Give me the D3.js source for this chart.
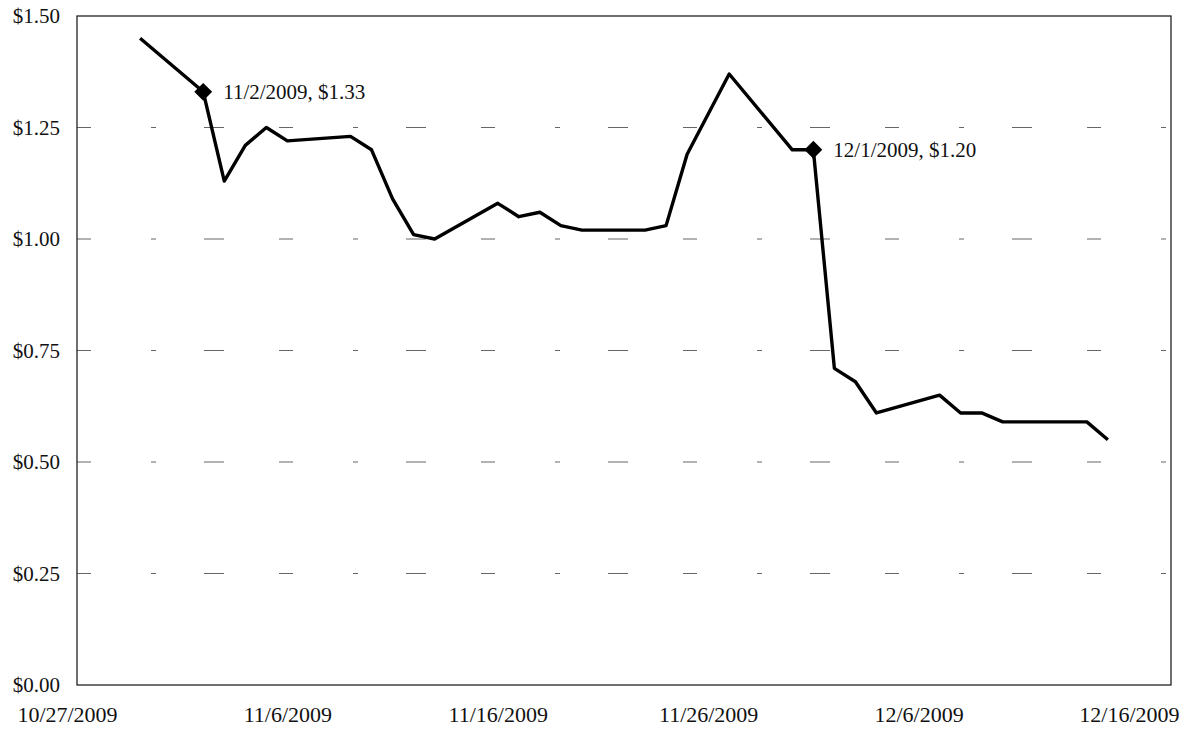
<!DOCTYPE html>
<html>
<head>
<meta charset="utf-8">
<script src="https://cdn.jsdelivr.net/npm/d3@7"></script>
<style>
    body { margin: 0; background: #fff; }
    svg { display: block; }
    .tick-label { font-family: "Liberation Serif", "Times New Roman", serif; fill: #111; }
    .note { font-family: "Liberation Serif", "Times New Roman", serif; font-size: 21px; fill: #111; }
</style>
</head>
<body>
<svg id="chart" width="1190" height="735"></svg>
<script>

// trading days and closing price
let dates = ["10/30/2009", "11/2/2009", "11/3/2009", "11/4/2009", "11/5/2009", "11/6/2009",
    "11/9/2009", "11/10/2009", "11/11/2009", "11/12/2009", "11/13/2009",
    "11/16/2009", "11/17/2009", "11/18/2009", "11/19/2009", "11/20/2009",
    "11/23/2009", "11/24/2009", "11/25/2009", "11/27/2009",
    "11/30/2009", "12/1/2009", "12/2/2009", "12/3/2009", "12/4/2009",
    "12/7/2009", "12/8/2009", "12/9/2009", "12/10/2009", "12/11/2009",
    "12/14/2009", "12/15/2009"];
let prices = [1.45, 1.33, 1.13, 1.21, 1.25, 1.22,
    1.23, 1.20, 1.09, 1.01, 1.00,
    1.08, 1.05, 1.06, 1.03, 1.02,
    1.02, 1.03, 1.19, 1.37,
    1.20, 1.20, 0.71, 0.68, 0.61,
    0.65, 0.61, 0.61, 0.59, 0.59,
    0.59, 0.55];

let xTicks = ["10/27/2009", "11/6/2009", "11/16/2009", "11/26/2009", "12/6/2009", "12/16/2009"];
let xDomain = ["10/27/2009", "12/18/2009"];
let yTicks = [0, 0.25, 0.5, 0.75, 1.0, 1.25, 1.5];
let labelled = ["11/2/2009", "12/1/2009"];

let parse = d3.timeParse("%m/%d/%Y");
let fmtDate = d3.timeFormat("%-m/%-d/%Y");
let fmtMoney = v => "$" + v.toFixed(2);

let data = dates.map((d, i) => ({date: parse(d), price: prices[i]}));

let svg = d3.select("#chart");
let x = d3.scaleTime().domain(xDomain.map(parse)).range([77, 1171]);
let y = d3.scaleLinear().domain([0, 1.5]).range([685, 16]);

// broken-looking gridlines like the scan
svg.append("g").selectAll("line").data(yTicks.filter(t => t > 0 && t < 1.5)).join("line")
    .attr("x1", x.range()[0]).attr("x2", x.range()[1])
    .attr("y1", d => y(d)).attr("y2", d => y(d))
    .attr("stroke", "#666").attr("stroke-width", 1)
    .attr("stroke-dasharray", "14,60,5,48,20,55");

// frame
svg.append("rect")
    .attr("x", x.range()[0]).attr("y", y(1.5))
    .attr("width", x.range()[1] - x.range()[0]).attr("height", y(0) - y(1.5))
    .attr("fill", "none").attr("stroke", "#222").attr("stroke-width", 1.3);

let yAxis = svg.append("g").attr("transform", "translate(77,0)")
    .call(d3.axisLeft(y).tickValues(yTicks).tickFormat(fmtMoney).tickSize(0).tickPadding(17));
yAxis.select(".domain").remove();
yAxis.selectAll("text").classed("tick-label", true).attr("font-size", 21);

let xAxis = svg.append("g").attr("transform", "translate(0,685)")
    .call(d3.axisBottom(x).tickValues(xTicks.map(parse)).tickFormat(fmtDate).tickSize(0).tickPadding(21));
xAxis.select(".domain").remove();
xAxis.selectAll("text").classed("tick-label", true).attr("font-size", 22);
xAxis.select(".tick text").attr("dx", -10);

let line = d3.line().x(d => x(d.date)).y(d => y(d.price));
svg.append("path").datum(data)
    .attr("d", line)
    .attr("fill", "none").attr("stroke", "#000").attr("stroke-width", 3.4)
    .attr("stroke-linejoin", "round");

let marked = data.filter(d => labelled.includes(fmtDate(d.date)));
svg.append("g").selectAll("path").data(marked).join("path")
    .attr("d", d3.symbol(d3.symbolSquare, 160))
    .attr("transform", d => "translate(" + x(d.date) + "," + y(d.price) + ") rotate(45)")
    .attr("fill", "#000");

svg.append("g").selectAll("text").data(marked).join("text")
    .classed("note", true)
    .attr("x", d => x(d.date) + 20).attr("y", d => y(d.price) + 7)
    .text(d => fmtDate(d.date) + ", " + fmtMoney(d.price));

</script>
</body>
</html>
